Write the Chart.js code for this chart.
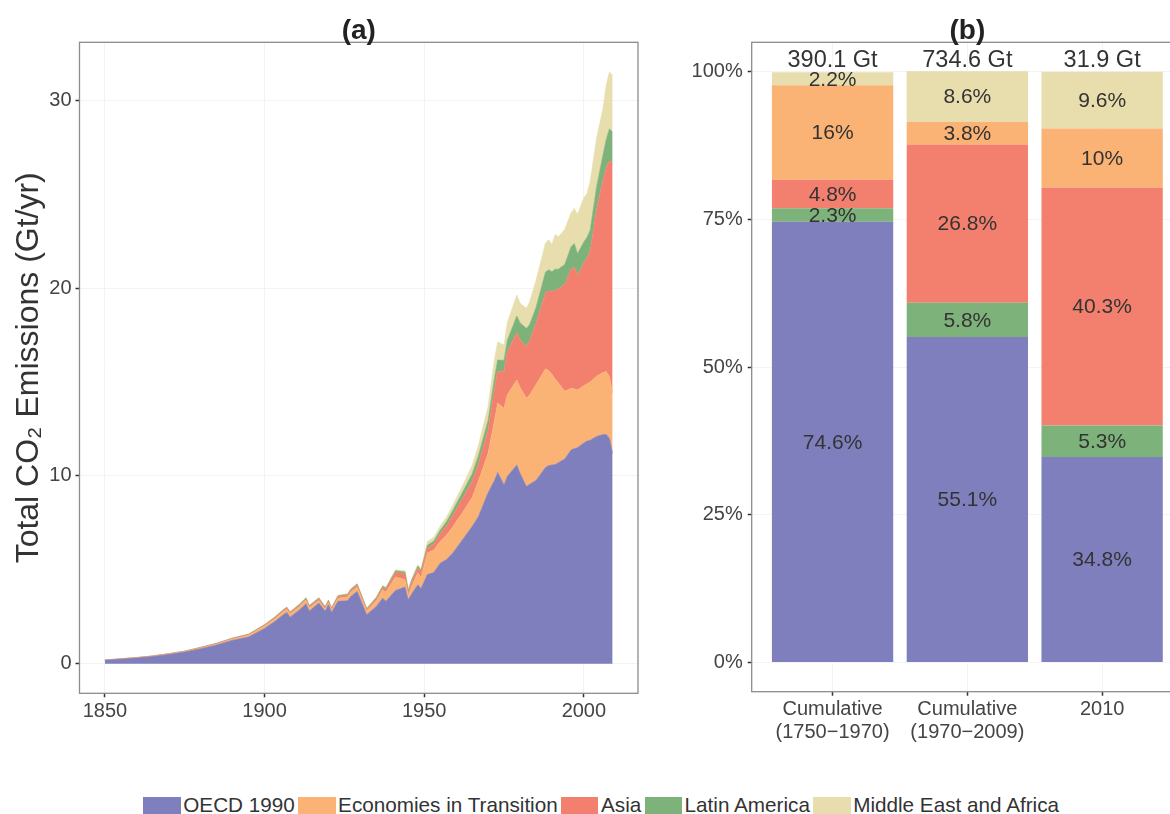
<!DOCTYPE html>
<html>
<head>
<meta charset="utf-8">
<script src="https://cdn.jsdelivr.net/npm/chart.js@4.4.1/dist/chart.umd.min.js"></script>
<style>
  html, body { margin: 0; padding: 0; background: #fff; overflow: hidden; }
  body { width: 1170px; height: 814px; position: relative; font-family: "Liberation Sans", Arial, sans-serif; }
  #chartA { position: absolute; left: 0; top: 0; }
  #chartB { position: absolute; left: 680px; top: 0; }
  #legend { position: absolute; left: 143.3px; top: 794px; display: flex; }
  .item { display: flex; align-items: flex-start; margin-right: 3.3px; }
  .swatch { width: 37.4px; height: 22px; margin-top: 2.7px; margin-right: 2.6px; }
  .label { font-size: 20.7px; line-height: 22px; color: #333; white-space: nowrap; }
</style>
</head>
<body>
<canvas id="chartA" width="660" height="780"></canvas>
<canvas id="chartB" width="520" height="780"></canvas>
<div id="legend"></div>
<script>
// ---- panel (a): yearly emissions by region, Gt CO2 / yr ----
const years = [1850, 1855, 1860, 1865, 1870, 1875, 1880, 1885, 1890, 1895, 1900,
  1903, 1906, 1907, 1908, 1911, 1913, 1914, 1917, 1919, 1920,
  1921, 1923, 1926, 1927, 1929, 1932, 1935, 1937, 1938, 1941,
  1944, 1945, 1946, 1948, 1949, 1951, 1953, 1955, 1957, 1959,
  1962, 1965, 1967, 1970, 1972, 1973, 1975, 1976, 1979, 1980,
  1982, 1983, 1985, 1988, 1989, 1990, 1991, 1992, 1994, 1996,
  1997, 1998, 2000, 2001, 2002, 2004, 2006, 2007, 2008, 2009];

const oecd = [0.18, 0.24, 0.30, 0.38, 0.49, 0.62, 0.80, 1.00, 1.25, 1.42, 1.88,
  2.22, 2.62, 2.72, 2.48, 2.87, 3.19, 2.80, 3.23, 2.80, 3.14,
  2.73, 3.32, 3.35, 3.58, 3.85, 2.61, 3.05, 3.49, 3.32, 3.90,
  4.08, 3.40, 3.70, 4.20, 4.00, 4.75, 4.85, 5.35, 5.55, 5.90,
  6.60, 7.30, 7.84, 9.10, 9.75, 10.18, 9.52, 9.96, 10.58, 10.14,
  9.43, 9.55, 9.75, 10.45, 10.55, 10.58, 10.60, 10.70, 10.90, 11.38,
  11.45, 11.50, 11.75, 11.85, 11.90, 12.10, 12.20, 12.20, 12.00, 11.20];

const transition = [0.01, 0.01, 0.015, 0.02, 0.025, 0.03, 0.04, 0.05, 0.07, 0.09, 0.12,
  0.14, 0.16, 0.17, 0.16, 0.18, 0.19, 0.17, 0.14, 0.10, 0.11,
  0.11, 0.16, 0.20, 0.22, 0.22, 0.19, 0.30, 0.43, 0.48, 0.72,
  0.39, 0.20, 0.40, 0.65, 0.56, 1.15, 1.21, 1.15, 1.30, 1.40,
  1.45, 1.55, 1.90, 2.10, 3.20, 3.69, 4.08, 4.34, 4.52, 4.56,
  4.70, 4.75, 5.10, 5.25, 5.05, 4.82, 4.55, 4.25, 3.60, 3.28,
  3.17, 3.07, 3.05, 3.05, 3.10, 3.20, 3.30, 3.35, 3.28, 3.20];

const asia = [0.005, 0.01, 0.01, 0.01, 0.015, 0.015, 0.02, 0.025, 0.03, 0.04, 0.05,
  0.06, 0.07, 0.07, 0.07, 0.08, 0.08, 0.08, 0.09, 0.08, 0.08,
  0.08, 0.09, 0.10, 0.10, 0.11, 0.08, 0.10, 0.13, 0.15, 0.23,
  0.30, 0.17, 0.20, 0.24, 0.30, 0.25, 0.30, 0.40, 0.50, 0.60,
  0.75, 0.85, 0.90, 1.25, 1.65, 1.70, 1.95, 2.30, 2.52, 2.55,
  2.75, 2.90, 3.25, 4.05, 4.25, 4.40, 4.75, 5.00, 5.70, 6.34,
  6.50, 6.10, 6.55, 6.70, 7.00, 8.90, 10.25, 10.85, 11.50, 12.23];

const latinAmerica = [0.003, 0.005, 0.005, 0.005, 0.005, 0.005, 0.01, 0.015, 0.015, 0.02, 0.025,
  0.03, 0.04, 0.04, 0.04, 0.04, 0.04, 0.04, 0.04, 0.05, 0.05,
  0.05, 0.05, 0.05, 0.06, 0.06, 0.05, 0.07, 0.08, 0.08, 0.10,
  0.11, 0.13, 0.12, 0.11, 0.12, 0.15, 0.17, 0.20, 0.22, 0.27,
  0.33, 0.40, 0.45, 0.50, 0.60, 0.60, 0.60, 0.60, 0.89, 0.90,
  0.97, 0.85, 0.85, 1.10, 1.12, 1.07, 1.10, 1.05, 1.05, 1.20,
  1.25, 1.15, 1.10, 1.10, 1.10, 1.20, 1.35, 1.50, 1.69, 1.67];

const middleEastAfrica = [0.002, 0.005, 0.005, 0.005, 0.005, 0.005, 0.005, 0.005, 0.01, 0.01, 0.015,
  0.02, 0.02, 0.02, 0.02, 0.02, 0.02, 0.02, 0.02, 0.02, 0.02,
  0.02, 0.03, 0.03, 0.03, 0.03, 0.03, 0.04, 0.04, 0.04, 0.05,
  0.07, 0.08, 0.08, 0.08, 0.08, 0.20, 0.20, 0.22, 0.25, 0.28,
  0.35, 0.45, 0.55, 0.75, 1.00, 0.95, 0.82, 0.95, 1.12, 1.05,
  1.07, 1.20, 1.45, 1.55, 1.60, 1.45, 1.85, 1.73, 1.87, 1.80,
  1.86, 2.10, 2.35, 2.35, 2.60, 2.60, 2.45, 2.90, 3.03, 3.03];

const yearTicks = [1850, 1900, 1950, 2000];
const emissionTicks = [0, 10, 20, 30];

// ---- panel (b): regional shares, % ----
const barCategories = [['Cumulative', '(1750\u22121970)'], ['Cumulative', '(1970\u22122009)'], ['2010']];
const barTotals = [390.1, 734.6, 31.9];
const barOecd = [74.6, 55.1, 34.8];
const barLatinAmerica = [2.3, 5.8, 5.3];
const barAsia = [4.8, 26.8, 40.3];
const barTransition = [16, 3.8, 10];
const barMiddleEastAfrica = [2.2, 8.6, 9.6];
const shareTicks = [0, 25, 50, 75, 100];

const regionNames = ['OECD 1990', 'Economies in Transition', 'Asia', 'Latin America', 'Middle East and Africa'];
const regionColors = ['#7f7fbd', '#fab374', '#f3806e', '#7db37a', '#e7ddad'];

const FONT = '"Liberation Sans", Arial, sans-serif';
Chart.defaults.font.family = FONT;

const tickFont = { size: 20 };
const gridOpts = { color: '#f3f3f3', lineWidth: 1, tickLength: 4, tickColor: '#333', tickWidth: 1.5, offset: false };

// panel title + grey frame round the plotting area
function framePlugin(title) {
    return {
        id: 'frame',
        afterDraw(chart) {
            const { ctx, chartArea: a } = chart;
            ctx.save();
            ctx.strokeStyle = '#8c8c8c';
            ctx.lineWidth = 1.3;
            ctx.strokeRect(a.left, a.top, a.right - a.left, a.bottom - a.top);
            ctx.fillStyle = '#222';
            ctx.font = 'bold 28px ' + FONT;
            ctx.textAlign = 'center';
            ctx.textBaseline = 'alphabetic';
            ctx.fillText(title, (a.left + a.right) / 2, 38.5);
            ctx.restore();
        }
    };
}

const toPoints = (xs, vals) => xs.map((x, i) => ({ x: x, y: vals[i] }));

// ---- chart (a) ----
const areaSeries = [oecd, transition, asia, latinAmerica, middleEastAfrica];

new Chart(document.getElementById('chartA'), {
    type: 'line',
    data: {
        datasets: areaSeries.map((vals, i) => ({
            label: regionNames[i],
            data: toPoints(years, vals),
            backgroundColor: regionColors[i],
            borderColor: regionColors[i],
            borderWidth: 0.6,
            pointRadius: 0,
            tension: 0,
            fill: i === 0 ? 'origin' : '-1'
        }))
    },
    options: {
        responsive: false,
        animation: false,
        events: [],
        layout: { padding: { left: 0, top: 42.3, right: 22, bottom: 46.7 } },
        plugins: { legend: { display: false }, tooltip: { enabled: false } },
        scales: {
            x: {
                type: 'linear',
                min: 1842.05,
                max: 2016.95,
                afterBuildTicks: s => { s.ticks = yearTicks.map(v => ({ value: v })); },
                afterFit: s => { s.height = 40; },
                grid: gridOpts,
                border: { display: false },
                ticks: { font: tickFont, color: '#444', padding: 2, maxRotation: 0, autoSkip: false, callback: v => String(v) }
            },
            y: {
                stacked: true,
                min: -1.575,
                max: 33.08,
                afterBuildTicks: s => { s.ticks = emissionTicks.map(v => ({ value: v })); },
                afterFit: s => { s.width = 79.5; },
                grid: gridOpts,
                border: { display: false },
                ticks: { font: tickFont, color: '#444', padding: 4, callback: v => String(v) },
                title: {
                    display: true,
                    text: 'Total CO\u2082 Emissions (Gt/yr)',
                    font: { size: 32 },
                    color: '#333',
                    padding: { top: 10, bottom: 0 }
                }
            }
        }
    },
    plugins: [framePlugin('(a)')]
});

// ---- chart (b) ----
const barPositions = [1, 2, 3];
const barSeries = [
    { vals: barOecd, color: regionColors[0], name: regionNames[0] },
    { vals: barLatinAmerica, color: regionColors[3], name: regionNames[3] },
    { vals: barAsia, color: regionColors[2], name: regionNames[2] },
    { vals: barTransition, color: regionColors[1], name: regionNames[1] },
    { vals: barMiddleEastAfrica, color: regionColors[4], name: regionNames[4] }
];

const barLabels = {
    id: 'barLabels',
    afterDatasetsDraw(chart) {
        const { ctx } = chart;
        ctx.save();
        ctx.fillStyle = '#333';
        ctx.textAlign = 'center';
        ctx.textBaseline = 'middle';
        ctx.font = '21px ' + FONT;
        chart.data.datasets.forEach((ds, i) => {
            chart.getDatasetMeta(i).data.forEach((bar, j) => {
                ctx.fillText(ds.data[j].y + '%', bar.x, (bar.y + bar.base) / 2 + 1);
            });
        });
        // totals above each bar
        ctx.font = '23.5px ' + FONT;
        const yTot = chart.scales.y.getPixelForValue(102.15);
        barPositions.forEach((p, j) => {
            ctx.fillText(barTotals[j] + ' Gt', chart.scales.x.getPixelForValue(p), yTot + 1);
        });
        ctx.restore();
    }
};

new Chart(document.getElementById('chartB'), {
    type: 'bar',
    data: {
        datasets: barSeries.map(s => ({
            label: s.name,
            data: toPoints(barPositions, s.vals),
            backgroundColor: s.color,
            borderWidth: 0,
            barPercentage: 0.9,
            categoryPercentage: 1.0
        }))
    },
    options: {
        responsive: false,
        animation: false,
        events: [],
        layout: { padding: { left: 0, top: 42.3, right: 17, bottom: 28.3 } },
        plugins: { legend: { display: false }, tooltip: { enabled: false } },
        scales: {
            x: {
                type: 'linear',
                stacked: true,
                offset: false,
                min: 0.4,
                max: 3.6,
                afterBuildTicks: s => { s.ticks = barPositions.map(v => ({ value: v })); },
                afterFit: s => { s.height = 60; },
                grid: gridOpts,
                border: { display: false },
                ticks: {
                    font: { size: 20, lineHeight: 1.12 },
                    color: '#444',
                    padding: 3,
                    maxRotation: 0,
                    autoSkip: false,
                    callback: v => barCategories[v - 1]
                }
            },
            y: {
                stacked: true,
                min: -4.94,
                max: 104.98,
                afterBuildTicks: s => { s.ticks = shareTicks.map(v => ({ value: v })); },
                afterFit: s => { s.width = 71.7; },
                grid: gridOpts,
                border: { display: false },
                ticks: { font: tickFont, color: '#444', padding: 5, callback: v => v + '%' }
            }
        }
    },
    plugins: [barLabels, framePlugin('(b)')]
});

// ---- shared legend ----
const legend = document.getElementById('legend');
regionNames.forEach((name, i) => {
    const item = document.createElement('div');
    item.className = 'item';
    const sw = document.createElement('span');
    sw.className = 'swatch';
    sw.style.background = regionColors[i];
    const lab = document.createElement('span');
    lab.className = 'label';
    lab.textContent = name;
    item.appendChild(sw);
    item.appendChild(lab);
    legend.appendChild(item);
});
</script>
</body>
</html>
